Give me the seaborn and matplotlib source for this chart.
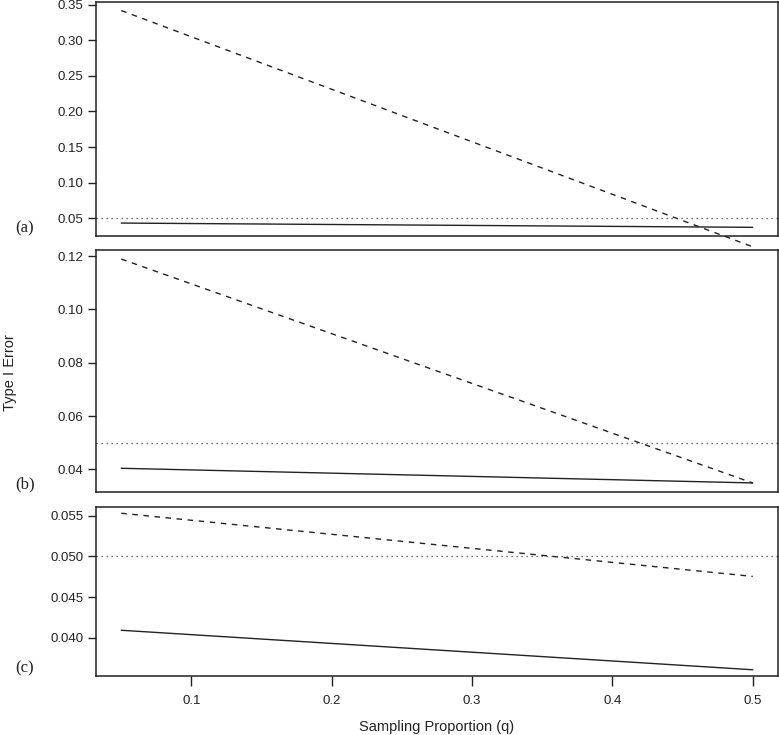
import pandas as pd
import matplotlib.pyplot as plt
import seaborn as sns

# sampling proportion q (line endpoints)
q = [0.05, 0.5]

# panel (a)
a_dashed = [0.342, 0.0096]
a_solid = [0.0430, 0.0370]
# panel (b)
b_dashed = [0.1189, 0.0349]
b_solid = [0.0404, 0.0349]
# panel (c)
c_dashed = [0.05533, 0.04754]
c_solid = [0.04090, 0.03603]

nominal = 0.05

panel_labels = ['(a)', '(b)', '(c)']
yticks = [
    [0.05, 0.10, 0.15, 0.20, 0.25, 0.30, 0.35],
    [0.04, 0.06, 0.08, 0.10, 0.12],
    [0.040, 0.045, 0.050, 0.055],
]
ytick_fmt = ['{:.2f}', '{:.2f}', '{:.3f}']
xticks = [0.1, 0.2, 0.3, 0.4, 0.5]
ylims = [(0.0248, 0.354), (0.0315, 0.1223), (0.03526, 0.0561)]

sns.set_theme(style="white")
plt.rcParams['font.family'] = ['Liberation Sans', 'DejaVu Sans']

fig = plt.figure(figsize=(7.79, 7.35), dpi=100)
left, width = 96 / 779, 682 / 779
boxes = [(236, 234), (492, 242), (676, 169)]  # (bottom px, height px)

series = [(a_dashed, a_solid), (b_dashed, b_solid), (c_dashed, c_solid)]
ink = '#222222'

for i, ((dashed, solid), (bot, h)) in enumerate(zip(series, boxes)):
    ax = fig.add_axes([left, 1 - bot / 735, width, h / 735])
    df = pd.DataFrame({'q': q, 'dashed': dashed, 'solid': solid})
    sns.lineplot(data=df, x='q', y='solid', ax=ax, color=ink, lw=1.0)
    ln = sns.lineplot(data=df, x='q', y='dashed', ax=ax, color=ink, lw=1.0)
    ln.lines[-1].set_dashes((4, 4))
    ln.lines[-1].set_clip_on(False)
    ax.axhline(nominal, color='#444444', lw=0.9, dashes=(1, 3))

    ax.set_xlim(0.032, 0.518)
    ax.set_ylim(*ylims[i])
    ax.set_yticks(yticks[i])
    ax.set_yticklabels([ytick_fmt[i].format(v) for v in yticks[i]], fontsize=9.5)
    ax.set_xlabel('')
    ax.set_ylabel('')
    ax.tick_params(axis='y', direction='out', length=6, width=1, color=ink,
                   left=True, pad=3, labelcolor=ink)
    if i == 2:
        ax.set_xticks(xticks)
        ax.set_xticklabels([f'{v:g}' for v in xticks], fontsize=9.5)
        ax.tick_params(axis='x', direction='out', length=7, width=1, color=ink,
                       bottom=True, pad=7, labelcolor=ink)
    else:
        ax.set_xticks([])
    for s in ax.spines.values():
        s.set_color(ink)
        s.set_linewidth(1.1)
    fig.text(25 / 779, 1 - (bot - 8) / 735, panel_labels[i], fontsize=12,
             family='Liberation Serif', ha='center', va='center', color=ink)

fig.text(10 / 779, 1 - 373 / 735, 'Type I Error', rotation=90, fontsize=10.5,
         ha='center', va='center', color=ink)
fig.text(437 / 779, 1 - 727 / 735, 'Sampling Proportion (q)', fontsize=10.5,
         ha='center', va='center', color=ink)

plt.savefig('out.png', dpi=100)
plt.close()
